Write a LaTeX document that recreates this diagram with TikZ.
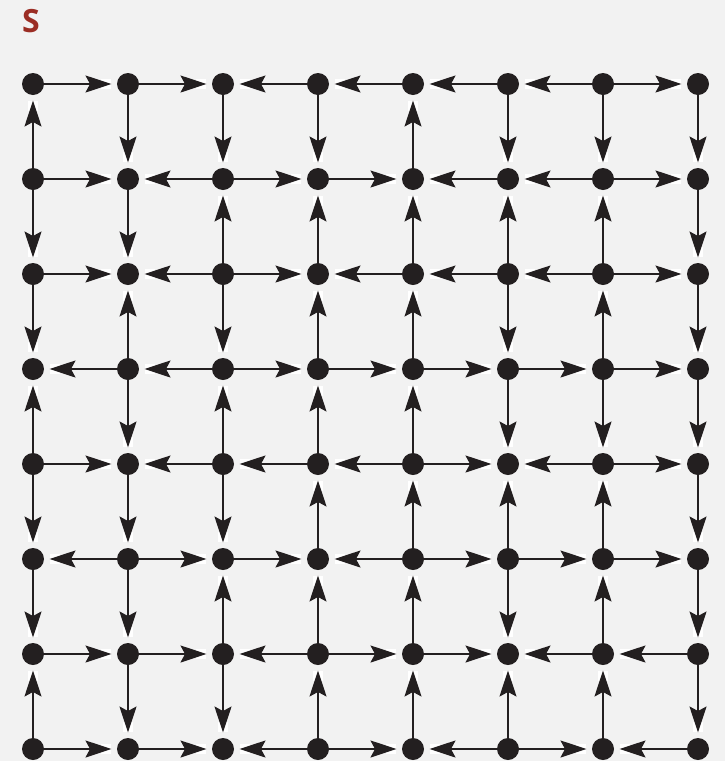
\documentclass[tikz,border=0pt]{standalone}
\usepackage{fontspec}
\newfontfamily\labelfont{Open Sans}
\usetikzlibrary{arrows.meta,calc}
\definecolor{ink}{HTML}{231F20}
\definecolor{paper}{HTML}{F2F2F2}
\definecolor{sred}{HTML}{9B2D24}
\pgfdeclarelayer{back}
\pgfdeclarelayer{edgelayer}
\pgfsetlayers{back,edgelayer,main}
\tikzset{
  dot/.style={circle, fill=ink, draw=none, minimum size=22pt, inner sep=0pt, outer sep=0pt},
  edge/.style={draw=ink, line width=1.7pt, shorten >=5.5pt,
    -{Stealth[length=26pt,width=17pt,inset=4.5pt]}},
  halo/.style={fill=white, draw=none},
  title/.style={text=sred, font=\labelfont\bfseries\fontsize{32}{38}\selectfont, inner sep=0pt}
}
\begin{document}
\begin{tikzpicture}[x=1pt,y=-1pt]
\begin{pgfonlayer}{back}
  \fill[paper] (0,0) rectangle (725,761);
\end{pgfonlayer}
\useasboundingbox (0,0) rectangle (725,761);
\node[title] (S) at (31,21) {S};
\foreach \r in {0,...,7}{
  \foreach \c in {0,...,7}{
    \node[dot] (\r-\c) at ({33+95*\c},{84+95*\r}) {};
  }
}
\begin{pgfonlayer}{edgelayer}
\foreach \s/\t in {
  0-0/0-1, 0-1/0-2, 0-3/0-2, 0-4/0-3, 0-5/0-4, 0-6/0-5, 0-6/0-7,
  1-0/1-1, 1-2/1-1, 1-2/1-3, 1-3/1-4, 1-5/1-4, 1-6/1-5, 1-6/1-7,
  2-0/2-1, 2-2/2-1, 2-2/2-3, 2-4/2-3, 2-5/2-4, 2-6/2-5, 2-6/2-7,
  3-1/3-0, 3-2/3-1, 3-2/3-3, 3-3/3-4, 3-4/3-5, 3-5/3-6, 3-6/3-7,
  4-0/4-1, 4-2/4-1, 4-3/4-2, 4-4/4-3, 4-4/4-5, 4-6/4-5, 4-6/4-7,
  5-1/5-0, 5-1/5-2, 5-2/5-3, 5-4/5-3, 5-4/5-5, 5-5/5-6, 5-6/5-7,
  6-0/6-1, 6-1/6-2, 6-3/6-2, 6-3/6-4, 6-4/6-5, 6-6/6-5, 6-7/6-6,
  7-0/7-1, 7-1/7-2, 7-3/7-2, 7-3/7-4, 7-5/7-4, 7-5/7-6, 7-7/7-6,
  1-0/0-0, 0-1/1-1, 0-2/1-2, 0-3/1-3, 1-4/0-4, 0-5/1-5, 0-6/1-6, 0-7/1-7,
  1-0/2-0, 1-1/2-1, 2-2/1-2, 2-3/1-3, 2-4/1-4, 2-5/1-5, 2-6/1-6, 1-7/2-7,
  2-0/3-0, 3-1/2-1, 2-2/3-2, 3-3/2-3, 3-4/2-4, 2-5/3-5, 3-6/2-6, 2-7/3-7,
  4-0/3-0, 3-1/4-1, 4-2/3-2, 4-3/3-3, 4-4/3-4, 3-5/4-5, 3-6/4-6, 3-7/4-7,
  4-0/5-0, 4-1/5-1, 4-2/5-2, 5-3/4-3, 5-4/4-4, 5-5/4-5, 5-6/4-6, 4-7/5-7,
  5-0/6-0, 5-1/6-1, 6-2/5-2, 6-3/5-3, 6-4/5-4, 5-5/6-5, 6-6/5-6, 5-7/6-7,
  7-0/6-0, 6-1/7-1, 6-2/7-2, 7-3/6-3, 7-4/6-4, 7-5/6-5, 7-6/6-6, 6-7/7-7}{
  \fill[halo] ($(\t)!22pt!(\s)$) +(-5.3pt,-5.3pt) rectangle +(5.3pt,5.3pt);
  \draw[edge] (\s) -- (\t);
}
\end{pgfonlayer}
\end{tikzpicture}
\end{document}
